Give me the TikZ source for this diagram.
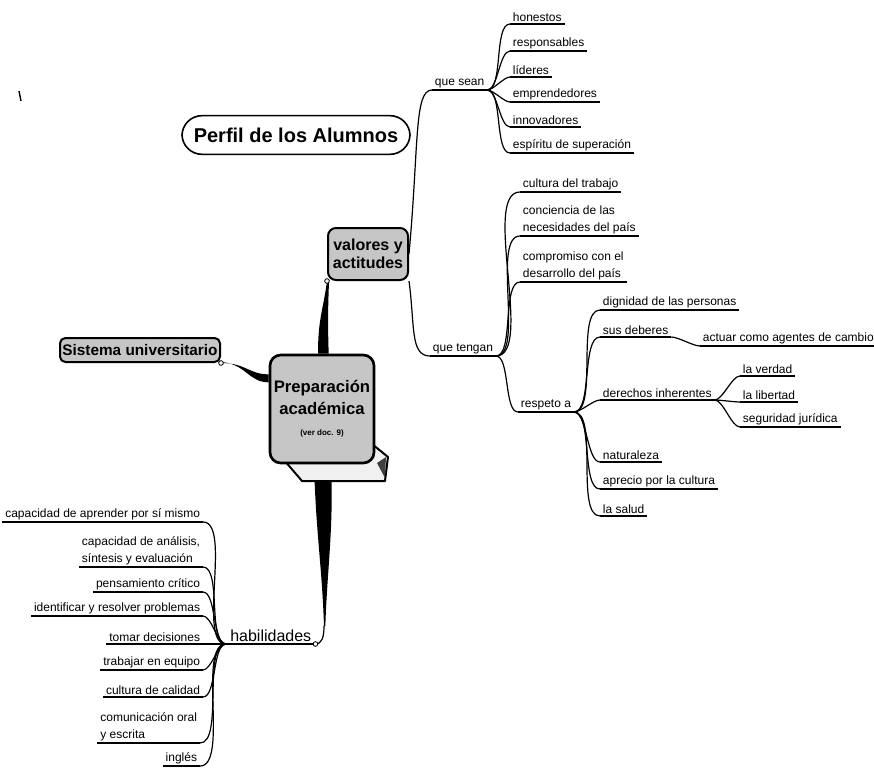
\documentclass[tikz,border=0pt]{standalone}
\usepackage{fontspec}
\setmainfont{Liberation Sans}
\pgfdeclarelayer{bg}
\pgfsetlayers{bg,main}
\begin{document}
\begin{tikzpicture}[x=0.75pt,y=-0.75pt,
  lbl/.style={font=\fontsize{9}{12.5}\selectfont, inner xsep=2pt, inner ysep=1.5pt, align=left},
  rl/.style={lbl, anchor=south west},
  ll/.style={lbl, anchor=south east},
  uline/.style={line width=0.8pt},
  conn/.style={line width=0.9pt},
  fr/.style={out=0,in=180,looseness=0.6},
  fl/.style={out=180,in=0,looseness=0.6},
  dark/.style={draw, line width=1.5pt, fill=gray!45, text=black, font=\bfseries\fontsize{12}{13.5}\selectfont, align=center},
  knob/.style={circle, draw, fill=white, line width=0.6pt, inner sep=0pt, minimum size=3.5pt}
]
\useasboundingbox (0,0) rectangle (874,771);
\begin{pgfonlayer}{bg}
  \fill[white] (0,0) rectangle (874,771);
\end{pgfonlayer}

% stray mark
\draw[line width=1.1pt] (19,91) -- (21,101);

% title
\node[draw, line width=1.2pt, rounded corners=15pt, minimum width=171pt, minimum height=29pt,
      font=\bfseries\fontsize{15}{18}\selectfont, inner sep=2pt] (title) at (296,135) {Perfil de los Alumnos};

% main boxes
\node[dark, rounded corners=4pt, minimum width=120pt, minimum height=18pt, inner sep=1pt,
      font=\bfseries\fontsize{11.5}{13}\selectfont] (sis) at (140,350) {Sistema universitario};
\node[dark, rounded corners=6pt, minimum width=60pt, minimum height=39pt, inner sep=1pt] (val) at (368,254)
      {valores y\\actitudes};
\node[dark, line width=2pt, rounded corners=8pt, minimum width=78pt, minimum height=81pt, inner sep=1pt,
      font=\bfseries\fontsize{12.5}{16}\selectfont] (cen) at (322,409)
      {Preparación\\académica\\{\fontsize{6}{7}\selectfont (ver doc. 9)}};

% que sean branch
\node[rl] (qs) at (432,90) {que sean};
\node[rl] (h1) at (510,24) {honestos};
\node[rl] (h2) at (510,51) {responsables};
\node[rl] (h3) at (510,77) {líderes};
\node[rl] (h4) at (510,102) {emprendedores};
\node[rl] (h5) at (510,127) {innovadores};
\node[rl] (h6) at (510,153) {espíritu de superación};

% que tengan branch
\node[rl] (qt) at (430,356) {que tengan};
\node[rl] (t1) at (520,192) {cultura del trabajo};
\node[rl] (t2) at (520,236) {conciencia de las\\necesidades del país};
\node[rl] (t3) at (520,282) {compromiso con el\\desarrollo del país};
\node[rl] (resp) at (518,412) {respeto a};
\node[rl] (r1) at (600,310) {dignidad de las personas};
\node[rl] (r2) at (600,337) {sus deberes};
\node[rl] (r2a) at (700,346) {actuar como agentes de cambio};
\node[rl] (r3) at (600,400) {derechos inherentes};
\node[rl] (r3a) at (740,376) {la verdad};
\node[rl] (r3b) at (740,402) {la libertad};
\node[rl] (r3c) at (740,427) {seguridad jurídica};
\node[rl] (r4) at (600,462) {naturaleza};
\node[rl] (r5) at (600,489) {aprecio por la cultura};
\node[rl] (r6) at (600,516) {la salud};

% habilidades branch
\node[anchor=south west, inner xsep=3pt, inner ysep=1.5pt, font=\fontsize{12}{14}\selectfont] (hab) at (226,644) {habilidades};
\node[ll] (l1) at (203,522) {capacidad de aprender por sí mismo};
\node[ll] (l2) at (203,567) {capacidad de análisis,\\síntesis y evaluación};
\node[ll] (l3) at (203,592) {pensamiento crítico};
\node[ll] (l4) at (203,616) {identificar y resolver problemas};
\node[ll] (l5) at (203,644) {tomar decisiones};
\node[ll] (l6) at (203,670) {trabajar en equipo};
\node[ll] (l7) at (203,697) {cultura de calidad};
\node[ll] (l8) at (200,743) {comunicación oral\\y escrita};
\node[ll] (l9) at (200,766) {inglés};

\coordinate (stemtip) at (324,626);

% thick stems and 3D base (behind)
\begin{pgfonlayer}{bg}
  \fill (val.south west) .. controls +(-4,30) and +(0,-35) .. ([xshift=-3pt]cen.north)
        -- ([xshift=5pt]cen.north) .. controls +(-1,-35) and +(-1,30) .. ([xshift=1.5pt]val.south west) -- cycle;
  \fill (sis.south east) .. controls +(25,0) and +(-20,0) .. ([yshift=26pt]cen.west)
        -- ([yshift=20pt]cen.west) .. controls +(-20,0) and +(25,2) .. ([yshift=0.8pt]sis.south east) -- cycle;
  \fill ([xshift=-6pt]cen.south) .. controls +(2,70) and +(-2,-60) .. (stemtip)
        -- ([xshift=1pt]stemtip) .. controls +(2,-60) and +(2,70) .. ([xshift=7pt]cen.south) -- cycle;
  \filldraw[fill=gray!12, line width=1.5pt, line join=round] (284,460) -- (302,481) -- (385,481) -- (388,457) -- (372,444) -- cycle;
  \fill[black!75] (377,463) -- (386,457) -- (385,478) -- cycle;
\end{pgfonlayer}

\draw[conn] (stemtip) .. controls +(0,12) and +(6,0) .. (hab.south east);

% underlines
\foreach \n in {qs,h1,h2,h3,h4,h5,h6,qt,t1,t2,t3,resp,r1,r2,r2a,r3,r3a,r3b,r3c,r4,r5,r6,hab,l1,l2,l3,l4,l5,l6,l7,l8,l9}
  \draw[uline] (\n.south west) -- (\n.south east);

% connectors
\draw[conn] (val.east) .. controls +(10,-110) and +(-18,0) .. (qs.south west);
\draw[conn] (val.south east) .. controls +(6,45) and +(-20,0) .. (qt.south west);
\foreach \c in {h1,h2,h3,h4,h5,h6} \draw[conn] (qs.south east) to[fr] (\c.south west);
\foreach \c in {t1,t2,t3,resp} \draw[conn] (qt.south east) to[fr] (\c.south west);
\foreach \c in {r1,r2,r3,r4,r5,r6} \draw[conn] (resp.south east) to[fr] (\c.south west);
\draw[conn] (r2.south east) to[fr] (r2a.south west);
\foreach \c in {r3a,r3b,r3c} \draw[conn] (r3.south east) to[fr] (\c.south west);
\foreach \c in {l1,l2,l3,l4,l5,l6,l7,l8,l9} \draw[conn] (hab.south west) to[fl] (\c.south east);

% small knobs
\node[knob] (k1) at (val.south west) {};
\node[knob] (k2) at (sis.south east) {};
\node[knob] (k3) at (hab.south east) {};
\end{tikzpicture}
\end{document}
